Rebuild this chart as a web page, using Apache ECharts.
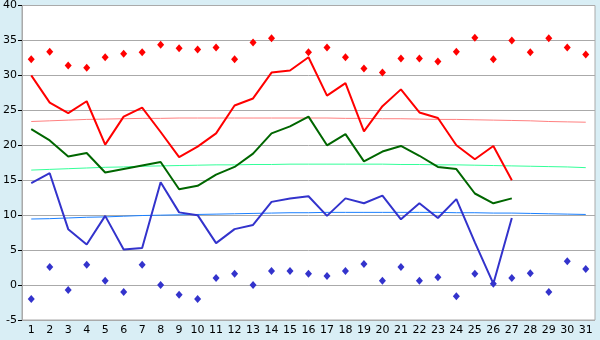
<!DOCTYPE html>
<html>
<head>
<meta charset="utf-8">
<script src="https://cdn.jsdelivr.net/npm/echarts@6/dist/echarts.min.js"></script>
<style>
  html, body { margin: 0; padding: 0; background: #d9eef5; }
  #chart { width: 600px; height: 340px; }
</style>
</head>
<body>
<div id="chart"></div>
<script>
// days of the month
var days = [];
for (var d = 1; d <= 31; d++) days.push(String(d));

var yTicks = [-5, 0, 5, 10, 15, 20, 25, 30, 35, 40];

// scatter: highest values
var redDots = [32.3, 33.4, 31.4, 31.1, 32.6, 33.1, 33.3, 34.4, 33.9, 33.7,
  34.0, 32.3, 34.7, 35.3, null, 33.3, 34.0, 32.6, 31.0, 30.4,
  32.4, 32.4, 32.0, 33.4, 35.4, 32.3, 35.0, 33.3, 35.3, 34.0, 33.0];
// lines
var redLine = [30.0, 26.1, 24.6, 26.3, 20.1, 24.1, 25.4, 21.9, 18.3, 19.8,
  21.7, 25.7, 26.7, 30.4, 30.7, 32.6, 27.1, 28.9, 22.0, 25.6,
  28.0, 24.7, 23.9, 20.0, 18.0, 19.9, 15.0];
var greenLine = [22.3, 20.7, 18.4, 18.9, 16.1, 16.6, 17.1, 17.6, 13.7, 14.2,
  15.8, 16.9, 18.8, 21.7, 22.7, 24.1, 20.0, 21.6, 17.7, 19.1,
  19.9, 18.5, 16.9, 16.6, 13.1, 11.7, 12.4];
var blueLine = [14.6, 16.0, 8.0, 5.8, 9.9, 5.1, 5.3, 14.7, 10.4, 10.0,
  6.0, 8.0, 8.6, 11.9, 12.4, 12.7, 9.9, 12.4, 11.7, 12.8,
  9.4, 11.7, 9.6, 12.3, 6.1, 0.2, 9.6];
// scatter: lowest values
var blueDots = [-2.0, 2.6, -0.7, 2.9, 0.6, -1.0, 2.9, 0.0, -1.4, -2.0,
  1.0, 1.6, 0.0, 2.0, 2.0, 1.6, 1.3, 2.0, 3.0, 0.6,
  2.6, 0.6, 1.1, -1.6, 1.6, 0.2, 1.0, 1.7, -1.0, 3.4, 2.3];
// trend lines
var redTrend = [23.4, 23.5, 23.6, 23.7, 23.75, 23.8, 23.85, 23.85, 23.9, 23.9,
  23.9, 23.9, 23.9, 23.9, 23.9, 23.9, 23.9, 23.85, 23.85, 23.8,
  23.8, 23.75, 23.7, 23.7, 23.65, 23.6, 23.55, 23.5, 23.4, 23.35, 23.3];
var greenTrend = [16.45, 16.55, 16.65, 16.75, 16.85, 16.9, 17.0, 17.05, 17.1, 17.15,
  17.2, 17.2, 17.25, 17.25, 17.3, 17.3, 17.3, 17.3, 17.3, 17.3,
  17.25, 17.25, 17.2, 17.2, 17.15, 17.1, 17.05, 17.0, 16.95, 16.9, 16.8];
var blueTrend = [9.45, 9.5, 9.6, 9.7, 9.75, 9.85, 9.95, 10.0, 10.05, 10.1,
  10.15, 10.2, 10.25, 10.3, 10.35, 10.35, 10.4, 10.4, 10.4, 10.4,
  10.4, 10.4, 10.4, 10.35, 10.35, 10.3, 10.3, 10.25, 10.2, 10.15, 10.1];

var chart = echarts.init(document.getElementById('chart'));

function lineSeries(data, color, width, z) {
  return {
    type: 'line',
    data: data,
    symbol: 'none',
    lineStyle: { color: color, width: width },
    itemStyle: { color: color },
    animation: false,
    z: z
  };
}
function dotSeries(data, color) {
  return {
    type: 'scatter',
    data: data,
    symbol: 'diamond',
    symbolSize: [7, 8],
    itemStyle: { color: color, opacity: 1 },
    animation: false,
    z: 6
  };
}

var option = {
  backgroundColor: '#d9eef5',
  grid: { left: 20, right: 5, top: 5, bottom: 20, show: true,
    backgroundColor: '#ffffff', borderColor: '#aaaaaa', borderWidth: 1 },
  xAxis: {
    type: 'category',
    data: days,
    boundaryGap: true,
    axisLine: { lineStyle: { color: '#aaaaaa' } },
    axisTick: { alignWithLabel: true, length: 5, lineStyle: { color: '#000000' } },
    axisLabel: { color: '#000000', fontFamily: 'DejaVu Sans', fontSize: 11, margin: 5, interval: 0 }
  },
  yAxis: {
    type: 'value',
    min: yTicks[0],
    max: yTicks[yTicks.length - 1],
    interval: 5,
    axisLine: { show: true, lineStyle: { color: '#aaaaaa' } },
    axisTick: { show: true, length: 4, lineStyle: { color: '#000000' } },
    axisLabel: { color: '#000000', fontFamily: 'DejaVu Sans', fontSize: 11, margin: 5 },
    splitLine: { lineStyle: { color: '#aaaaaa', width: 1 } }
  },
  series: [
    lineSeries(redTrend, '#ff8080', 1, 2),
    lineSeries(greenTrend, '#33ff99', 1, 2),
    lineSeries(blueTrend, '#1a80ff', 1, 2),
    lineSeries(redLine, '#ff0000', 2, 4),
    lineSeries(greenLine, '#006600', 2, 4),
    lineSeries(blueLine, '#3333cc', 2, 4),
    dotSeries(redDots, '#ff0000'),
    dotSeries(blueDots, '#3333cc')
  ]
};
chart.setOption(option);
</script>
</body>
</html>
